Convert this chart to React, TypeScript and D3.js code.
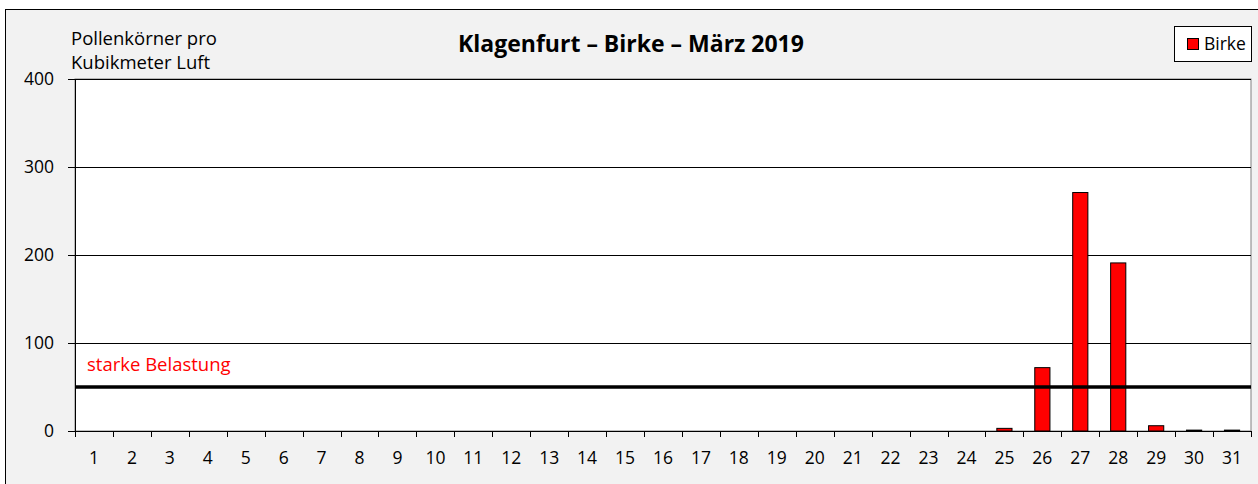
import React from "react";
import * as d3 from "d3";

const days: string[] = Array.from({ length: 31 }, (_, i) => String(i + 1));
const birke: number[] = [0,0,0,0,0,0,0,0,0,0,0,0,0,0,0,0,0,0,0,0,0,0,0,0,3,72,271,191,6,1,1];
const yTicks: number[] = [0, 100, 200, 300, 400];
const threshold = 50;
const title = "Klagenfurt – Birke – März 2019";
const yLabel = ["Pollenkörner pro", "Kubikmeter Luft"];
const thresholdLabel = "starke Belastung";
const seriesName = "Birke";

export default function App() {
  const W = 1258, H = 484;
  const left = 75, right = 1251, top = 79, bottom = 431;
  const x = d3.scaleBand<string>().domain(days).range([left, right]).paddingInner(0).paddingOuter(0);
  const y = d3.scaleLinear().domain([0, 400]).range([bottom, top]);
  const bw = x.bandwidth();
  const barW = bw * 0.4;
  const font = "'Open Sans', 'Liberation Sans', Arial, sans-serif";
  const fs = 17.5;
  const fl = 18.5;
  const boundaries = days.map((d) => x(d)!).concat([right]);
  return (
    <svg width={W} height={H} style={{ position: "absolute", left: 0, top: 0 }} fontFamily={font}>
      <rect x={0} y={0} width={W} height={H} fill="#ffffff" />
      <rect x={5.5} y={9.5} width={1260} height={480} fill="#f2f2f2" stroke="#000" strokeWidth={1} />
      <rect x={left} y={top} width={right - left} height={bottom - top} fill="#ffffff" stroke="#808080" strokeWidth={1} />
      {yTicks.filter((t) => t > 0).map((t) => (
        <line key={t} x1={left} x2={right} y1={Math.round(y(t)) + 0.5} y2={Math.round(y(t)) + 0.5} stroke="#000" strokeWidth={1} />
      ))}
      {/* y axis */}
      <line x1={left + 0.5} x2={left + 0.5} y1={top} y2={bottom} stroke="#000" />
      {yTicks.map((t) => (
        <g key={t}>
          <line x1={left - 7} x2={left} y1={Math.round(y(t)) + 0.5} y2={Math.round(y(t)) + 0.5} stroke="#000" />
          <text x={54} y={y(t)} dy="0.36em" textAnchor="end" fontSize={fs} fill="#000">{t}</text>
        </g>
      ))}
      {/* x axis */}
      <line x1={left} x2={right} y1={bottom + 0.5} y2={bottom + 0.5} stroke="#000" />
      {boundaries.map((b, i) => (
        <line key={i} x1={Math.round(b) + 0.5} x2={Math.round(b) + 0.5} y1={bottom} y2={bottom + 6} stroke="#000" />
      ))}
      {days.map((d) => (
        <text key={d} x={x(d)! + bw / 2} y={458} dy="0.36em" textAnchor="middle" fontSize={fs} fill="#000">{d}</text>
      ))}
      {/* bars */}
      {birke.map((v, i) => (
        <rect key={i} x={x(days[i])! + (bw - barW) / 2} y={y(v)} width={barW} height={bottom - y(v)} fill="#ff0000" stroke="#000" strokeWidth={1} />
      ))}
      {/* threshold */}
      <line x1={left} x2={right} y1={y(threshold)} y2={y(threshold)} stroke="#000" strokeWidth={3.5} />
      <text x={87} y={371} fontSize={fl} fill="#ff0000">{thresholdLabel}</text>
      {/* title */}
      <text x={631} y={52} textAnchor="middle" fontSize={23} fontWeight="bold" fill="#000">{title}</text>
      {/* y label */}
      <text x={71} y={45} fontSize={fl} fill="#000">{yLabel[0]}</text>
      <text x={71} y={69} fontSize={fl} fill="#000">{yLabel[1]}</text>
      {/* legend */}
      <rect x={1174.5} y={26.5} width={77} height={35} fill="#ffffff" stroke="#000" />
      <rect x={1187.5} y={38.5} width={11} height={11} fill="#ff0000" stroke="#000" />
      <text x={1204} y={50} fontSize={fs} fill="#000">{seriesName}</text>
    </svg>
  );
}
